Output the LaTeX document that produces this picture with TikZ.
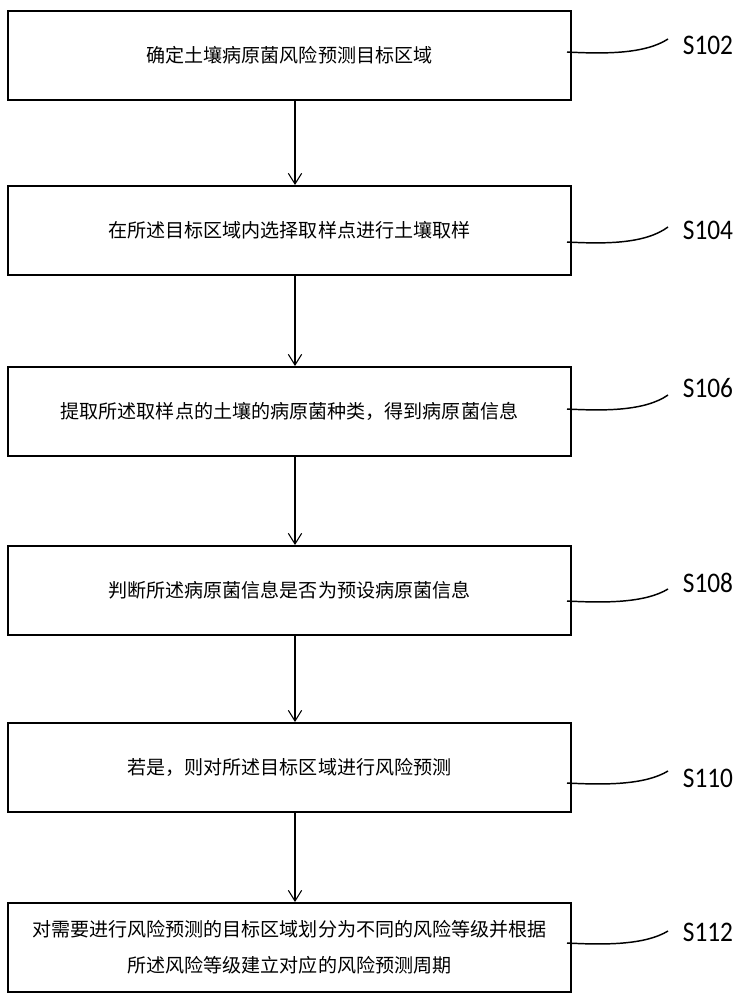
\documentclass[tikz,border=0pt]{standalone}
\usepackage{fontspec}
\newfontfamily\cjk{Noto Sans CJK SC}
\newfontfamily\labfont{Carlito}
\usetikzlibrary{arrows.meta}
\begin{document}
\begin{tikzpicture}[x=0.75pt,y=-0.75pt,
  stepbox/.style={draw, line width=1.6pt, minimum width=422pt, minimum height=66.5pt,
    inner sep=0pt, anchor=north west, align=center,
    font=\cjk\fontsize{14.3}{27}\selectfont},
  arr/.style={draw, line width=0.8pt, -{Straight Barb[length=8pt,width=10pt]}},
  lead/.style={draw, line width=1.1pt},
  steplab/.style={font=\labfont\fontsize{19}{19}\selectfont, inner sep=0pt, yscale=1.12}]
\useasboundingbox (0,0) rectangle (742,1000);
\fill[white] (0,0) rectangle (742,1000);

\node[stepbox] (b1) at (7,10)  {确定土壤病原菌风险预测目标区域};
\node[stepbox] (b2) at (7,185) {在所述目标区域内选择取样点进行土壤取样};
\node[stepbox] (b3) at (7,366) {提取所述取样点的土壤的病原菌种类，得到病原菌信息};
\node[stepbox] (b4) at (7,545) {判断所述病原菌信息是否为预设病原菌信息};
\node[stepbox] (b5) at (7,722) {若是，则对所述目标区域进行风险预测};
\node[stepbox] (b6) at (7,902) {对需要进行风险预测的目标区域划分为不同的风险等级并根据\\所述风险等级建立对应的风险预测周期};

\coordinate (ax) at (295,0);
\draw[arr] (b1.south -| ax) -- (b2.north -| ax);
\draw[arr] (b2.south -| ax) -- (b3.north -| ax);
\draw[arr] (b3.south -| ax) -- (b4.north -| ax);
\draw[arr] (b4.south -| ax) -- (b5.north -| ax);
\draw[arr] (b5.south -| ax) -- (b6.north -| ax);

\node[steplab] (l1) at (708,45)  {S102};
\node[steplab] (l2) at (708,230) {S104};
\node[steplab] (l3) at (708,388) {S106};
\node[steplab] (l4) at (708,583) {S108};
\node[steplab] (l5) at (708,778) {S110};
\node[steplab] (l6) at (708,932) {S112};

\foreach \b/\ys/\ye in {1/52/39, 2/242/227, 3/409/395, 4/601/589, 5/783/771, 6/943/931}{
  \coordinate (s\b) at (567,\ys);
  \coordinate (e\b) at (668,\ye);
  \draw[lead] (s\b) .. controls (605,\ys+2) and (645,\ys+2) .. (e\b);
}
\end{tikzpicture}
\end{document}
